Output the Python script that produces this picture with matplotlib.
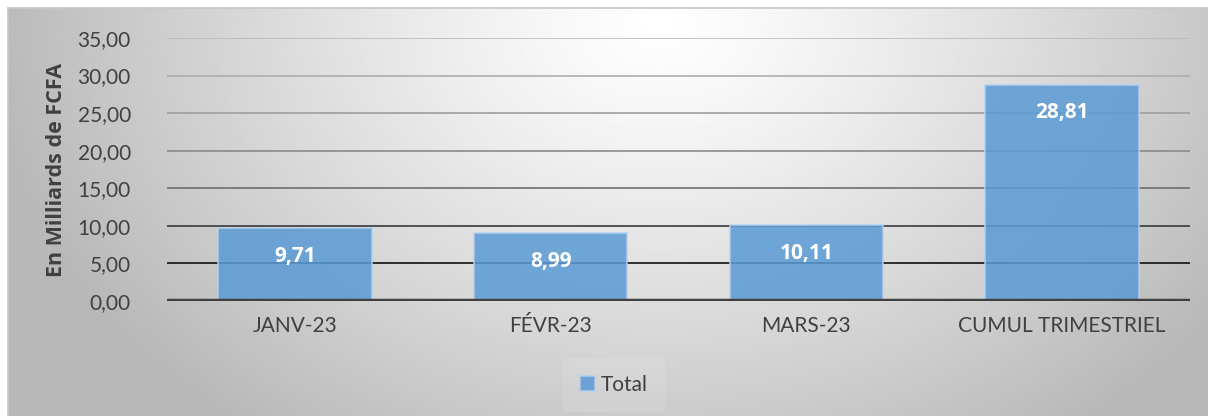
import numpy as np
import matplotlib.pyplot as plt

plt.rcParams['font.family'] = ['Lato', 'DejaVu Sans']
BOLD_FONT = ['Open Sans', 'DejaVu Sans']

# données du graphique
categories = ['JANV-23', 'FÉVR-23', 'MARS-23', 'CUMUL TRIMESTRIEL']
values = [9.71, 8.99, 10.11, 28.81]
y_ticks = [0, 5, 10, 15, 20, 25, 30, 35]
y_label = 'En Milliards de FCFA'
series_name = 'Total'

W, H = 1208, 416
fig = plt.figure(figsize=(W / 100, H / 100), dpi=100)

# fond en dégradé radial (clair en haut au centre, gris dans les coins)
bg = fig.add_axes([0, 0, 1, 1])
bg.set_zorder(0)
bg.set_xlim(0, W)
bg.set_ylim(H, 0)
bg.axis('off')
gx, gy = np.meshgrid(np.linspace(8, W, 600), np.linspace(8, H, 210))
d = np.sqrt(((gx - 660) / 680) ** 2 + ((gy - 20) / 520) ** 2)
shade = np.clip(1.0 - 0.28 * d ** 1.2, 0.72, 1.0)
bg.imshow(shade, cmap='gray', vmin=0, vmax=1, extent=(8, W, H, 8), aspect='auto', interpolation='bilinear')
bg.plot([8, W], [8, 8], color='#c8c8c8', lw=1.2)
bg.plot([8, 8], [8, H], color='#c8c8c8', lw=1.2)

ax = fig.add_axes([167 / W, 115 / H, (1190 - 167) / W, (378 - 115) / H])
ax.set_zorder(1)
ax.patch.set_alpha(0)

x = np.arange(len(categories))
bars = ax.bar(x, values, width=0.6, color='#5b9bd5', alpha=0.86,
              edgecolor='#b4d0ee', linewidth=1.2, zorder=3, label=series_name)

# lignes de quadrillage qui foncent vers le bas
grid_colors = ['#404040', '#111111', '#3a3a3a', '#6e6e6e', '#8a8a8a', '#9e9e9e', '#adadad', '#bababa']
for yv, c in zip(y_ticks, grid_colors):
    ax.axhline(yv, color=c, lw=3.2 if yv == 0 else 1.2, zorder=2 if yv else 4)

for xi, v in zip(x, values):
    ax.annotate(f'{v:.2f}'.replace('.', ','), xy=(xi, v), xytext=(0, -20.5),
                textcoords='offset points', ha='center', va='center',
                color='white', fontsize=15, fontweight='bold', family=BOLD_FONT, zorder=5)

ax.set_xlim(-0.5, len(categories) - 0.5)
ax.set_ylim(0, 35)
ax.set_yticks(y_ticks)
ax.set_yticklabels([f'{t:.2f}'.replace('.', ',') for t in y_ticks])
ax.set_xticks(x)
ax.set_xticklabels(categories)
ax.tick_params(axis='both', length=0, labelsize=15, colors='#404040')
ax.tick_params(axis='y', pad=26)
ax.tick_params(axis='x', pad=11)
for s in ax.spines.values():
    s.set_visible(False)

ax.set_ylabel(y_label, fontsize=15.5, fontweight='bold', family=BOLD_FONT,
              color='#404040', labelpad=8)

leg = ax.legend(loc='center', bbox_to_anchor=(614 / W, (H - 385) / H), bbox_transform=fig.transFigure,
                frameon=True, fontsize=15, handlelength=0.7, handleheight=0.7,
                handletextpad=0.3, borderpad=0.8)
leg.get_frame().set_facecolor('#f6f6f6')
leg.get_frame().set_alpha(0.12)
leg.get_frame().set_edgecolor('none')
for t in leg.get_texts():
    t.set_color('#404040')

fig.savefig('out.png', dpi=100)
